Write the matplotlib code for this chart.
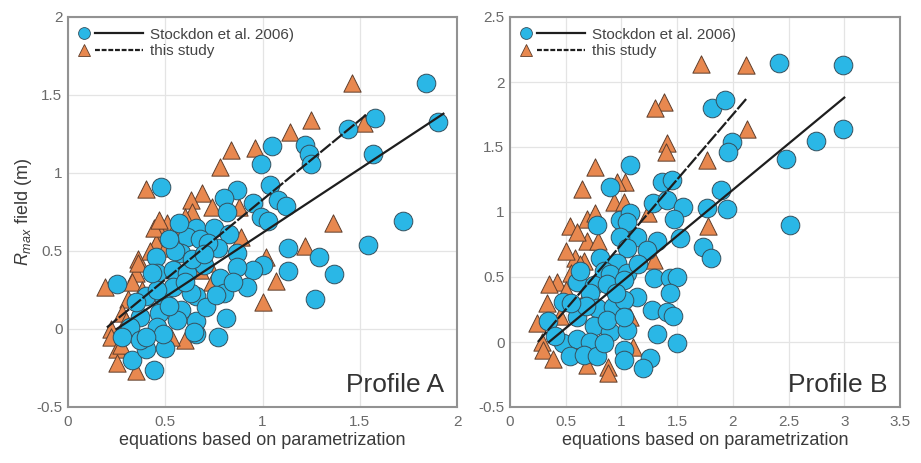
import matplotlib
matplotlib.use("Agg")
import matplotlib.pyplot as plt
from matplotlib.lines import Line2D
from matplotlib.legend_handler import HandlerBase
from matplotlib.ticker import FuncFormatter, MultipleLocator

plt.rcParams['font.family'] = ['Liberation Sans', 'DejaVu Sans']
plt.rcParams['mathtext.fontset'] = 'custom'
plt.rcParams['mathtext.rm'] = 'Liberation Sans'
plt.rcParams['mathtext.it'] = 'Liberation Sans:italic'

# ---------------- data: Profile A ----------------
a_circ_x = [0.25, 0.48, 1.84, 1.90, 1.58, 1.44, 1.57, 1.72, 1.54, 1.37, 1.29, 1.27, 1.13, 1.13,
            1.00, 0.95, 0.92, 0.81, 0.77, 0.44, 0.33, 0.40, 0.50, 0.66, 0.66, 1.05, 0.99, 1.22,
            1.24, 1.25, 1.04, 1.08, 1.12, 0.95, 0.99, 1.03, 0.87, 0.80, 0.82, 0.66, 0.75, 0.83,
            0.61, 0.68, 0.58, 0.77, 0.87, 0.45, 0.46, 0.54, 0.61, 0.70, 0.78, 0.80, 0.87, 0.40,
            0.49, 0.58, 0.66, 0.71, 0.47, 0.37, 0.32, 0.28, 0.37, 0.46, 0.65, 0.63, 0.54, 0.46,
            0.35, 0.56, 0.49, 0.40, 0.55, 0.64, 0.72, 0.52, 0.57, 0.70, 0.60, 0.52, 0.43, 0.76,
            0.85]
a_circ_y = [0.29, 0.91, 1.58, 1.33, 1.35, 1.28, 1.12, 0.69, 0.54, 0.35, 0.46, 0.19, 0.52, 0.37,
            0.41, 0.38, 0.27, 0.07, -0.05, -0.26, -0.20, -0.13, -0.12, -0.03, 0.05, 1.17, 1.06, 1.18,
            1.12, 1.06, 0.92, 0.83, 0.79, 0.81, 0.72, 0.69, 0.89, 0.84, 0.75, 0.65, 0.65, 0.61,
            0.59, 0.58, 0.49, 0.52, 0.49, 0.46, 0.36, 0.38, 0.36, 0.41, 0.33, 0.23, 0.40, 0.21,
            0.21, 0.12, 0.21, 0.14, 0.10, 0.08, 0.01, -0.05, -0.07, 0.01, -0.02, 0.23, 0.27, 0.25,
            0.17, 0.06, -0.03, -0.05, 0.50, 0.45, 0.55, 0.58, 0.68, 0.48, 0.30, 0.15, 0.36, 0.22,
            0.30]
a_tri_x = [0.40, 0.69, 0.63, 0.78, 0.84, 0.96, 0.74, 0.64, 0.51, 0.56, 0.48, 0.52, 0.36, 0.88,
           0.19, 0.31, 0.35, 0.36, 0.22, 0.22, 0.25, 0.25, 0.35, 1.00, 0.60, 0.53, 0.68, 1.07,
           1.46, 1.25, 1.14, 1.52, 1.36, 1.22, 1.02, 0.89, 0.72, 0.74, 0.28, 0.30, 0.45, 0.42,
           0.50, 0.60, 0.58, 0.33, 0.38, 0.27, 0.44, 0.47]
a_tri_y = [0.90, 0.87, 0.83, 1.04, 1.15, 1.16, 0.78, 0.75, 0.68, 0.67, 0.61, 0.57, 0.45, 0.78,
           0.27, 0.19, 0.36, 0.42, 0.00, -0.05, -0.13, -0.22, -0.27, 0.17, -0.07, -0.05, 0.38, 0.31,
           1.58, 1.34, 1.26, 1.32, 0.68, 0.53, 0.46, 0.59, 0.42, 0.30, 0.10, 0.05, 0.55, 0.50,
           0.52, 0.72, 0.62, 0.30, 0.25, -0.10, 0.65, 0.70]
a_stock_x = [0.25, 1.93]
a_stock_y = [0.00, 1.38]
a_study_x = [0.20, 1.54]
a_study_y = [0.01, 1.38]

# ---------------- data: Profile B ----------------
b_circ_x = [2.41, 2.99, 2.99, 2.75, 2.48, 2.51, 1.81, 1.93, 1.99, 1.96, 1.89, 1.95, 1.77, 1.08,
            0.90, 1.36, 1.45, 1.28, 1.41, 1.55, 1.47, 0.99, 1.08, 0.78, 1.14, 1.32, 1.05, 0.99,
            1.53, 1.73, 1.80, 1.05, 1.23, 0.81, 0.96, 0.84, 0.90, 1.05, 1.29, 1.44, 1.50, 0.60,
            0.75, 0.72, 0.87, 1.02, 1.14, 1.44, 1.27, 1.41, 1.46, 1.32, 1.50, 1.26, 1.19, 0.48,
            0.34, 0.60, 0.78, 0.92, 1.02, 0.75, 0.90, 1.05, 0.48, 0.60, 0.72, 0.54, 0.66, 0.78,
            1.02, 1.02, 0.84, 0.87, 1.02, 0.68, 0.95, 1.15, 0.55, 0.40, 0.63]
b_circ_y = [2.15, 2.13, 1.64, 1.55, 1.41, 0.90, 1.80, 1.86, 1.54, 1.46, 1.17, 1.02, 1.03, 1.36,
            1.19, 1.23, 1.25, 1.07, 1.09, 1.04, 0.95, 0.94, 0.99, 0.90, 0.81, 0.78, 0.92, 0.81,
            0.80, 0.73, 0.65, 0.72, 0.71, 0.65, 0.61, 0.55, 0.52, 0.53, 0.49, 0.49, 0.50, 0.46,
            0.44, 0.38, 0.45, 0.48, 0.35, 0.38, 0.25, 0.23, 0.20, 0.06, -0.01, -0.12, -0.20, 0.31,
            0.16, 0.19, 0.26, 0.27, 0.32, 0.12, 0.08, 0.09, -0.01, 0.02, 0.00, -0.11, -0.10, -0.11,
            -0.06, -0.14, -0.01, 0.17, 0.19, 0.28, 0.38, 0.60, 0.30, 0.05, 0.55]
b_tri_x = [1.71, 2.12, 1.38, 1.30, 2.13, 1.41, 1.40, 1.77, 0.76, 0.65, 1.03, 0.96, 0.93, 1.02,
           1.78, 0.54, 0.69, 0.76, 0.69, 0.79, 0.58, 0.66, 0.42, 1.29, 1.24, 0.33, 0.24, 0.29,
           0.30, 0.39, 0.88, 0.88, 1.10, 1.08, 0.57, 0.69, 0.55, 0.63, 0.50, 0.45, 0.35, 0.60,
           0.65, 0.50]
b_tri_y = [2.14, 2.13, 1.85, 1.80, 1.64, 1.53, 1.46, 1.40, 1.35, 1.18, 1.23, 1.23, 1.08, 1.08,
           0.89, 0.89, 0.95, 0.99, 0.78, 0.78, 0.65, 0.62, 0.46, 0.63, 0.99, 0.30, 0.15, 0.00,
           -0.06, -0.13, -0.19, -0.24, -0.04, 0.19, -0.04, -0.18, 0.53, 0.60, 0.40, 0.20, 0.45, 0.85,
           0.30, 0.70]
b_stock_x = [0.35, 3.00]
b_stock_y = [0.00, 1.88]
b_study_x = [0.25, 2.13]
b_study_y = [0.00, 1.88]

legend_labels = ["Stockdon et al. 2006)", "this study"]

# ---------------- style ----------------
CIRC_FC = '#2ab7e6'
CIRC_EC = '#35505e'
TRI_FC = '#e8884f'
TRI_EC = '#5e3e2c'
LINE_C = '#1e1e1e'
STUDY_DASH = (6.0, 0.9)


class Combo:
    def __init__(self, marker, fc, ec, ls):
        self.marker, self.fc, self.ec, self.ls = marker, fc, ec, ls


class ComboHandler(HandlerBase):
    def create_artists(self, legend, h, xdescent, ydescent, width, height, fontsize, trans):
        y = height / 2 - ydescent
        m = Line2D([-xdescent + width * 0.09], [y], marker=h.marker, markersize=8.5,
                   markerfacecolor=h.fc, markeredgecolor=h.ec, markeredgewidth=0.6,
                   linestyle='none')
        ln = Line2D([-xdescent + width * 0.26, -xdescent + width], [y, y], color=LINE_C, lw=1.6)
        if h.ls == 'dash':
            ln.set_dashes((2.2, 0.8))
        m.set_transform(trans)
        ln.set_transform(trans)
        return [m, ln]


fig = plt.figure(figsize=(9.21, 4.63), dpi=100)
axA = fig.add_axes([68 / 921, 1 - 407 / 463, 389 / 921, 390 / 463])
axB = fig.add_axes([510 / 921, 1 - 407 / 463, 390 / 921, 390 / 463])

fmt = FuncFormatter(lambda v, p: '%g' % round(v, 3))


def draw(ax, cx, cy, tx, ty, sx, sy, dx, dy, xmax, ymax, title):
    ax.scatter(tx, ty, s=155, marker='^', c=TRI_FC, edgecolors=TRI_EC, linewidths=0.7, zorder=2)
    ax.scatter(cx, cy, s=180, marker='o', c=CIRC_FC, edgecolors=CIRC_EC, linewidths=0.7, zorder=3)
    ax.plot(sx, sy, color=LINE_C, lw=1.6, zorder=4)
    ax.plot(dx, dy, color=LINE_C, lw=1.6, dashes=STUDY_DASH, zorder=4)
    ax.set_xlim(0, xmax)
    ax.set_ylim(-0.5, ymax)
    ax.xaxis.set_major_locator(MultipleLocator(0.5))
    ax.yaxis.set_major_locator(MultipleLocator(0.5))
    ax.xaxis.set_major_formatter(fmt)
    ax.yaxis.set_major_formatter(fmt)
    ax.grid(True, color='#e4e4e4', lw=0.9, zorder=0)
    ax.set_axisbelow(True)
    for sp in ax.spines.values():
        sp.set_color('#929292')
        sp.set_linewidth(1.5)
    ax.tick_params(axis='x', length=0, pad=6, labelsize=11, labelcolor='#6a6a6a')
    ax.tick_params(axis='y', length=0, pad=4, labelsize=11, labelcolor='#6a6a6a')
    ax.set_xlabel('equations based on parametrization', fontsize=13, color='#3a3a3a', labelpad=2)
    ax.text(0.967, 0.025, title, transform=ax.transAxes, ha='right', va='bottom',
            fontsize=19, color='#333333')
    handles = [Combo('o', CIRC_FC, CIRC_EC, 'solid'), Combo('^', TRI_FC, TRI_EC, 'dash')]
    ax.legend(handles, legend_labels, handler_map={Combo: ComboHandler()},
              loc='upper left', bbox_to_anchor=(0.0, 1.0), frameon=False,
              fontsize=11, handlelength=4.2, handletextpad=0.5, borderaxespad=0.35,
              borderpad=0.35, labelspacing=0.15, labelcolor='#444444')


draw(axA, a_circ_x, a_circ_y, a_tri_x, a_tri_y, a_stock_x, a_stock_y, a_study_x, a_study_y,
     2.0, 2.0, 'Profile A')
draw(axB, b_circ_x, b_circ_y, b_tri_x, b_tri_y, b_stock_x, b_stock_y, b_study_x, b_study_y,
     3.5, 2.5, 'Profile B')
axA.set_ylabel(r'$R_{max}$ field (m)', fontsize=13, color='#3a3a3a', labelpad=2)

fig.savefig('out.png', dpi=100, facecolor='white')
